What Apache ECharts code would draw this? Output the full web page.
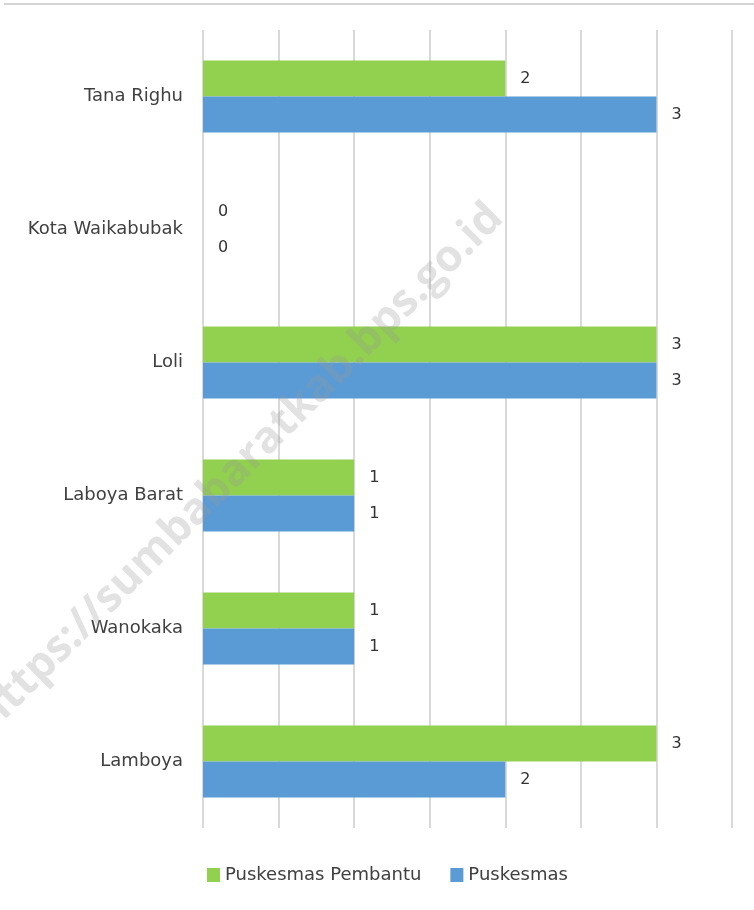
<!DOCTYPE html>
<html>
<head>
<meta charset="utf-8">
<script src="https://cdn.jsdelivr.net/npm/echarts@6/dist/echarts.min.js"></script>
<style>html,body{margin:0;padding:0;background:#fff}#c{width:754px;height:910px}</style>
</head>
<body>
<div id="c"></div>
<script>
var categories = ['Lamboya', 'Wanokaka', 'Laboya Barat', 'Loli', 'Kota Waikabubak', 'Tana Righu'];
var puskesmasPembantu = [3, 1, 1, 3, 0, 2];
var puskesmas = [2, 1, 1, 3, 0, 3];
var seriesNames = ['Puskesmas Pembantu', 'Puskesmas'];

var chart = echarts.init(document.getElementById('c'), null, {renderer: 'canvas'});
var font = '"DejaVu Sans", sans-serif';
var lbl = {show: true, position: 'right', distance: 15, color: '#333333', fontSize: 16, fontFamily: font};
chart.setOption({
  animation: false,
  backgroundColor: '#ffffff',
  grid: {left: 203, right: 22, top: 30, bottom: 82, containLabel: false},
  legend: {
    bottom: 21, left: 202, itemGap: 29, itemWidth: 13, itemHeight: 14,
    icon: 'rect',
    textStyle: {color: '#404040', fontSize: 18, fontFamily: font},
    data: seriesNames
  },
  xAxis: {
    type: 'value', min: 0, max: 3.5, interval: 0.5,
    axisLabel: {show: false}, axisLine: {show: false}, axisTick: {show: false},
    splitLine: {show: true, lineStyle: {color: '#d9d9d9', width: 2}}
  },
  yAxis: {
    type: 'category', data: categories,
    axisLine: {show: false}, axisTick: {show: false},
    axisLabel: {color: '#404040', fontSize: 18, fontFamily: font, margin: 20}
  },
  series: [
    {name: seriesNames[0], type: 'bar', data: puskesmasPembantu, barWidth: 36, barGap: '0%',
     itemStyle: {color: '#92d050'}, label: lbl},
    {name: seriesNames[1], type: 'bar', data: puskesmas, barWidth: 36, barGap: '0%',
     itemStyle: {color: '#5b9bd5'}, label: lbl}
  ],
  graphic: [
    {type: 'line', shape: {x1: 4, y1: 4, x2: 754, y2: 4}, style: {stroke: '#d4d4d4', lineWidth: 2}, silent: true},
    {type: 'text', x: 240, y: 467, rotation: Math.PI / 4, silent: true, z: 100,
     style: {text: 'https://sumbabaratkab.bps.go.id', fill: 'rgba(150,150,150,0.28)', font: 'bold 44px "Open Sans", sans-serif',
             textAlign: 'center', textVerticalAlign: 'middle'}}
  ]
});
</script>
</body>
</html>
